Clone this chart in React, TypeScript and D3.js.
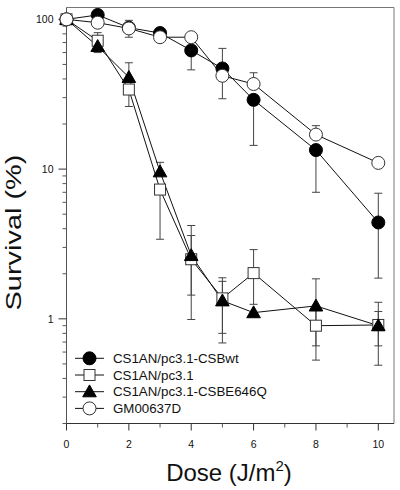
import React from "react";
import * as d3 from "d3";

const doses = [0, 1, 2, 3, 4, 5, 6, 8, 10];

const csbwt = [100, 107, 88, 81, 62, 47, 29, 13.4, 4.4];
const csbwtHi = [null, null, null, null, null, 64, null, null, 6.9];
const csbwtLo = [null, null, null, null, 46, 29.5, 14.4, 7, 1.87];

const pc31 = [100, 72, 34, 7.3, 2.5, 1.37, 2.02, 0.9, 0.91];
const pc31Hi = [null, 81.5, null, null, 3.6, 1.78, 2.9, 1.2, 1.12];
const pc31Lo = [null, null, 26.2, 3.4, 1.44, 0.8, 1.25, 0.66, 0.66];

const e646q = [100, 66, 41, 9.6, 2.65, 1.32, 1.1, 1.22, 0.9];
const e646qHi = [null, null, 51.3, 11.1, 4.2, 1.88, null, 1.85, 1.29];
const e646qLo = [null, 60, null, null, 0.99, 0.69, null, 0.53, 0.49];

const gm = [100, 95, 87, 76, 76, 42, 37, 17, 11];
const gmHi = [null, null, 98.5, null, null, null, 44, 19.5, null];
const gmLo = [null, null, 76, null, null, null, null, null, null];

const legendLabels = ["CS1AN/pc3.1-CSBwt", "CS1AN/pc3.1", "CS1AN/pc3.1-CSBE646Q", "GM00637D"];
const xTickValues = [0, 2, 4, 6, 8, 10];
const xMinorValues = [1, 3, 5, 7, 9];
const yTickValues = [1, 10, 100];

type Shape = "circleFilled" | "square" | "triangle" | "circleOpen";

const seriesList: { name: string; values: number[]; hi: (number | null)[]; lo: (number | null)[]; shape: Shape }[] = [
  { name: legendLabels[0], values: csbwt, hi: csbwtHi, lo: csbwtLo, shape: "circleFilled" },
  { name: legendLabels[1], values: pc31, hi: pc31Hi, lo: pc31Lo, shape: "square" },
  { name: legendLabels[2], values: e646q, hi: e646qHi, lo: e646qLo, shape: "triangle" },
  { name: legendLabels[3], values: gm, hi: gmHi, lo: gmLo, shape: "circleOpen" },
];

const FONT = "Arial, 'Liberation Sans', Helvetica, sans-serif";

function Marker({ shape, cx, cy }: { shape: Shape; cx: number; cy: number }) {
  if (shape === "circleFilled") return <circle cx={cx} cy={cy} r={6.5} fill="#000" stroke="#000" strokeWidth={1} />;
  if (shape === "circleOpen") return <circle cx={cx} cy={cy} r={6.5} fill="#fff" stroke="#333" strokeWidth={1} />;
  if (shape === "square") return <rect x={cx - 5.5} y={cy - 5.5} width={11} height={11} fill="#fff" stroke="#333" strokeWidth={1} />;
  const s = 6.8;
  return <path d={`M${cx},${cy - s}L${cx + s},${cy + s * 0.75}L${cx - s},${cy + s * 0.75}Z`} fill="#000" stroke="#000" strokeWidth={1} />;
}

export default function App() {
  const left = 66.5, right = 394, top = 7.5, bottom = 423.5;
  const x = d3.scaleLinear().domain([0, 10]).range([left, 378.3]);
  const y = d3.scaleLog().domain([0.2, 120]).range([bottom, top]);
  const line = d3.line<[number, number]>().x(d => x(d[0])).y(d => y(d[1]));

  const yMinor: number[] = [];
  [0.1, 1, 10].forEach(dec => {
    for (let k = 2; k <= 9; k++) {
      const v = k * dec;
      if (v >= 0.2 && v < 100) yMinor.push(v);
    }
  });

  const capW = 4;
  const legendY0 = 358.3, legendDy = 16.7;

  return (
    <svg width={400} height={490} style={{ position: "absolute", left: 0, top: 0, background: "#fff" }} fontFamily={FONT}>
      <rect x={0} y={0} width={400} height={490} fill="#fff" />
      {/* frame */}
      <line x1={left} x2={right} y1={top} y2={top} stroke="#777" strokeWidth={1} />
      <line x1={right} x2={right} y1={top} y2={bottom} stroke="#777" strokeWidth={1} />
      <line x1={left} x2={left} y1={top} y2={bottom} stroke="#555" strokeWidth={1} />
      <line x1={left} x2={right} y1={bottom} y2={bottom} stroke="#333" strokeWidth={1} />

      {/* y ticks */}
      {yTickValues.map(v => (
        <g key={"yt" + v}>
          <line x1={left - 8} x2={left} y1={y(v)} y2={y(v)} stroke="#333" />
          <text x={left - 13} y={y(v)} dy="0.35em" textAnchor="end" fontSize={10.5} fill="#111">{v}</text>
        </g>
      ))}
      {yMinor.map(v => (
        <line key={"ym" + v} x1={left - 4} x2={left} y1={y(v)} y2={y(v)} stroke="#555" />
      ))}

      {/* x ticks */}
      {xTickValues.map(v => (
        <g key={"xt" + v}>
          <line x1={x(v)} x2={x(v)} y1={bottom} y2={bottom + 7} stroke="#333" />
          <text x={x(v)} y={448} textAnchor="middle" fontSize={10.5} fill="#111">{v}</text>
        </g>
      ))}
      {xMinorValues.map(v => (
        <line key={"xm" + v} x1={x(v)} x2={x(v)} y1={bottom} y2={bottom + 4} stroke="#555" />
      ))}

      {/* error bars */}
      {seriesList.map(s => (
        <g key={"eb" + s.name} stroke="#444" strokeWidth={1}>
          {doses.map((d, i) => {
            const out: JSX.Element[] = [];
            const hi = s.hi[i], lo = s.lo[i];
            if (hi != null) {
              out.push(<line key={"h" + i} x1={x(d)} x2={x(d)} y1={y(s.values[i])} y2={y(hi)} />);
              out.push(<line key={"hc" + i} x1={x(d) - capW} x2={x(d) + capW} y1={y(hi)} y2={y(hi)} />);
            }
            if (lo != null) {
              out.push(<line key={"l" + i} x1={x(d)} x2={x(d)} y1={y(s.values[i])} y2={y(lo)} />);
              out.push(<line key={"lc" + i} x1={x(d) - capW} x2={x(d) + capW} y1={y(lo)} y2={y(lo)} />);
            }
            return out;
          })}
        </g>
      ))}

      {/* lines */}
      {seriesList.map(s => (
        <path key={"ln" + s.name} d={line(doses.map((d, i) => [d, s.values[i]] as [number, number])) || ""} fill="none" stroke="#111" strokeWidth={1} />
      ))}

      {/* markers */}
      {seriesList.map(s => (
        <g key={"mk" + s.name}>
          {doses.map((d, i) => (
            <Marker key={i} shape={s.shape} cx={x(d)} cy={y(s.values[i])} />
          ))}
        </g>
      ))}

      {/* legend */}
      {seriesList.map((s, i) => (
        <g key={"lg" + s.name}>
          <line x1={75} x2={104} y1={legendY0 + i * legendDy} y2={legendY0 + i * legendDy} stroke="#111" />
          <Marker shape={s.shape} cx={89.5} cy={legendY0 + i * legendDy} />
          <text x={113} y={legendY0 + i * legendDy} dy="0.36em" fontSize={13.3} fill="#111">{s.name}</text>
        </g>
      ))}

      {/* axis titles */}
      <text x={229} y={481} textAnchor="middle" fontSize={24} fill="#111">
        Dose (J/m<tspan fontSize={15} dy={-10}>2</tspan><tspan dy={10}>)</tspan>
      </text>
      <text transform="translate(21,232.5) rotate(-90)" textAnchor="middle" fontSize={22} fill="#111" textLength={156} lengthAdjust="spacingAndGlyphs">
        Survival (%)
      </text>
    </svg>
  );
}
